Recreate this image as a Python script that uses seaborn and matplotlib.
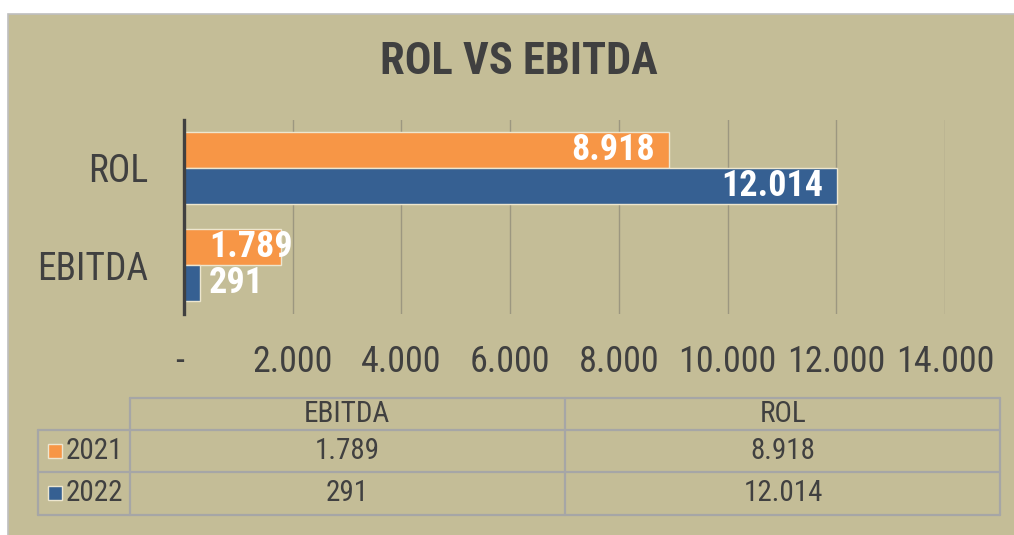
import numpy as np
import pandas as pd
import matplotlib
matplotlib.use('Agg')
import matplotlib.pyplot as plt
import seaborn as sns
from matplotlib import font_manager
from matplotlib.patches import Rectangle

# data
categories = ['ROL', 'EBITDA']
years = ['2021', '2022']
values_2021 = [8918, 1789]
values_2022 = [12014, 291]
table_cols = ['EBITDA', 'ROL']
x_ticks = [0, 2000, 4000, 6000, 8000, 10000, 12000, 14000]
tick_labels = ['-', '2.000', '4.000', '6.000', '8.000', '10.000', '12.000', '14.000']

orange = '#F79646'
blue = '#366092'
tan = '#C4BD97'
txt = '#404040'

def fmt(v):
    return f"{v:,}".replace(',', '.')

# pick a narrow font if there is one
names = {f.name for f in font_manager.fontManager.ttflist}
narrow = None
for n in ['Liberation Sans Narrow', 'Roboto Condensed', 'Open Sans Condensed', 'DejaVu Sans Condensed']:
    if n in names:
        narrow = n
        break
if narrow is None:
    narrow = 'Liberation Sans'

sns.set_style('white')
plt.rcParams['font.family'] = [narrow, 'DejaVu Sans']

df = pd.DataFrame({
    'category': categories * 2,
    'year': [years[0]] * 2 + [years[1]] * 2,
    'value': values_2021 + values_2022,
})

W, H = 1014, 535
fig = plt.figure(figsize=(W / 100, H / 100), dpi=100)
fig.patch.set_facecolor('white')

# tan background box with grey top/left border
bg = fig.add_axes([0, 0, 1, 1])
bg.set_xlim(0, W)
bg.set_ylim(H, 0)
bg.axis('off')
bg.add_patch(Rectangle((8, 14), W + 40, H + 40, facecolor=tan, edgecolor='#BFBFBF',
                       linewidth=1.2, clip_on=True))

ax = fig.add_axes([184 / W, 1 - 313.5 / H, (945 - 184) / W, 194 / H])
ax.set_facecolor('none')
sns.barplot(data=df, y='category', x='value', hue='year', order=categories,
            hue_order=years, palette=[orange, blue], saturation=1, orient='h', width=0.75,
            edgecolor='#EDE6CF', linewidth=1.0, ax=ax, legend=False, zorder=3)
ax.set_xlim(0, 14000)
ax.set_ylim(1.5, -0.5)
ax.set_xticks(x_ticks)
ax.set_xticklabels(tick_labels)
ax.set_xlabel('')
ax.set_ylabel('')
for x in x_ticks[1:]:
    ax.axvline(x, color='#9C9780', linewidth=1.0, zorder=1)
for s in ['top', 'right', 'bottom']:
    ax.spines[s].set_visible(False)
ax.spines['left'].set_color(txt)
ax.spines['left'].set_linewidth(2.4)
ax.spines['left'].set_zorder(5)
ax.tick_params(axis='x', length=0, pad=22, labelsize=26, labelcolor=txt)
ax.tick_params(axis='y', length=0, pad=26, labelsize=27, labelcolor=txt)
ax.get_xticklabels()[0].set_ha('right')

# value labels: inside end, short bars get pushed out from the axis
for cont, vals in zip(ax.containers, [values_2021, values_2022]):
    for bar, v in zip(cont, vals):
        yc = bar.get_y() + bar.get_height() / 2
        if v > 3000:
            ax.annotate(fmt(v), xy=(v, yc), xytext=(-10, 0), textcoords='offset points',
                        ha='right', va='center', color='white', fontsize=26,
                        fontweight='bold', zorder=6)
        else:
            ax.annotate(fmt(v), xy=(0, yc), xytext=(18, 0), textcoords='offset points',
                        ha='left', va='center', color='white', fontsize=26,
                        fontweight='bold', zorder=6)

fig.text(519 / W, 1 - 62 / H, 'ROL VS EBITDA', ha='center', va='center',
         fontsize=32, fontweight='bold', color=txt)

# data table under the chart
lc = '#A6A6A6'
lw = 1.6
bg2 = fig.add_axes([0, 0, 1, 1])
bg2.set_xlim(0, W)
bg2.set_ylim(H, 0)
bg2.axis('off')
bg2.plot([130, 1000], [398, 398], color=lc, lw=lw)
for y in [430, 472, 515]:
    bg2.plot([38, 1000], [y, y], color=lc, lw=lw)
bg2.plot([38, 38], [430, 515], color=lc, lw=lw)
for x in [130, 565, 1000]:
    bg2.plot([x, x], [398, 515], color=lc, lw=lw)

col_centers = [347, 783]
row_centers = [451, 493]
for cx, name in zip(col_centers, table_cols):
    bg2.text(cx, 414, name, ha='center', va='center', fontsize=21, color=txt)
    i = categories.index(name)
    for cy, vals in zip(row_centers, [values_2021, values_2022]):
        bg2.text(cx, cy, fmt(vals[i]), ha='center', va='center', fontsize=21, color=txt)
for cy, yr, col in zip(row_centers, years, [orange, blue]):
    bg2.add_patch(Rectangle((48, cy - 7), 14, 14, facecolor=col, edgecolor='#EDE6CF', lw=1))
    bg2.text(66, cy, yr, ha='left', va='center', fontsize=21, color=txt)

fig.savefig('out.png', dpi=100, facecolor=fig.get_facecolor())
